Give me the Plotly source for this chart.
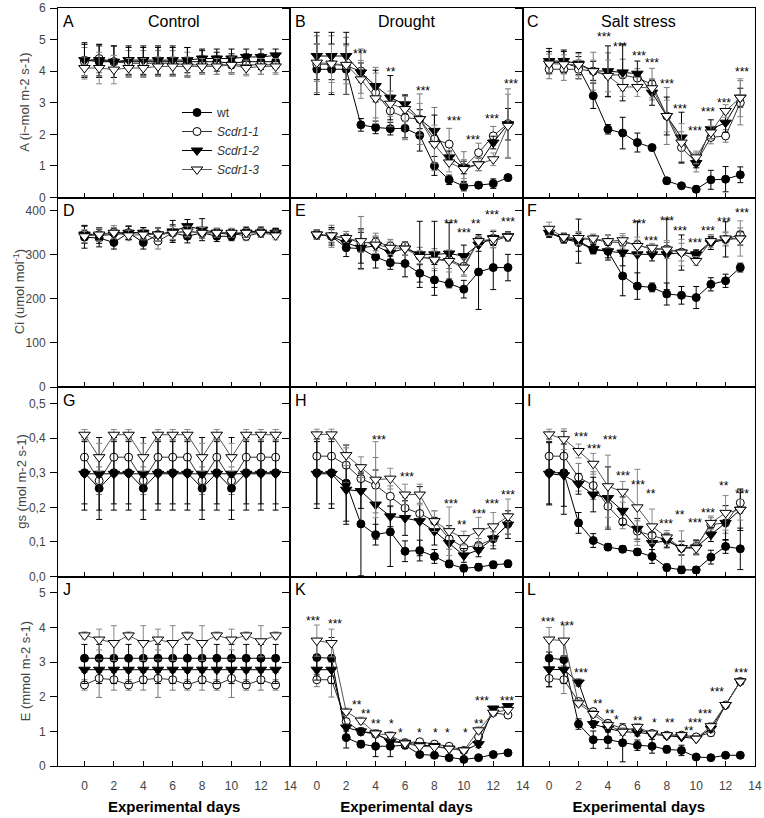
import plotly.graph_objects as go
from plotly.subplots import make_subplots

days = list(range(14))
genotypes = ["wt", "Scdr1-1", "Scdr1-2", "Scdr1-3"]
treatments = ["Control", "Drought", "Salt stress"]
letters = list("ABCDEFGHIJKL")
y_titles = ["A (i~mol m-2 s-1)", "Ci (umol mol<sup>-1</sup>)", "gs (mol m-2 s-1)", "E (mmol m-2 s-1)"]
x_title = "Experimental days"

# ---------------- A: net photosynthesis ----------------
A_wt = [4.35, 4.3, 4.3, 4.3, 4.3, 4.3, 4.3, 4.3, 4.3, 4.3, 4.25, 4.3, 4.3, 4.3]
A_s1 = [4.3, 4.4, 4.3, 4.25, 4.25, 4.25, 4.25, 4.2, 4.2, 4.2, 4.2, 4.2, 4.2, 4.2]
A_s2 = [4.35, 4.35, 4.3, 4.35, 4.35, 4.35, 4.35, 4.35, 4.4, 4.4, 4.4, 4.45, 4.45, 4.5]
A_s3 = [4.1, 4.1, 4.05, 4.1, 4.1, 4.15, 4.15, 4.15, 4.15, 4.15, 4.2, 4.1, 4.15, 4.15]
A_wt_e = [0.5, 0.5, 0.5, 0.45, 0.45, 0.45, 0.45, 0.45, 0.35, 0.3, 0.3, 0.25, 0.25, 0.2]
A_s1_e = [0.45, 0.45, 0.5, 0.4, 0.4, 0.4, 0.4, 0.4, 0.3, 0.3, 0.3, 0.3, 0.3, 0.25]
A_s2_e = [0.55, 0.5, 0.5, 0.45, 0.45, 0.45, 0.45, 0.4, 0.3, 0.3, 0.3, 0.25, 0.25, 0.2]
A_s3_e = [0.35, 0.5, 0.45, 0.3, 0.3, 0.3, 0.3, 0.3, 0.25, 0.25, 0.25, 0.25, 0.25, 0.25]

B_wt = [4.06, 4.06, 4.06, 2.3, 2.22, 2.18, 2.19, 1.97, 1.0, 0.56, 0.36, 0.39, 0.44, 0.63]
B_s1 = [4.22, 4.22, 4.17, 4.0, 3.32, 2.74, 2.53, 2.48, 1.85, 1.69, 0.95, 1.42, 1.95, 2.34]
B_s2 = [4.48, 4.48, 4.48, 3.96, 3.53, 3.16, 2.95, 2.48, 2.11, 1.27, 0.95, 1.05, 1.74, 2.32]
B_s3 = [4.27, 4.24, 4.2, 3.74, 3.14, 2.97, 2.8, 2.48, 1.69, 1.11, 0.9, 1.05, 1.21, 2.27]
B_wt_e = [0.8, 0.8, 0.8, 0.2, 0.2, 0.2, 0.3, 0.5, 0.3, 0.15, 0.15, 0.1, 0.15, 0.1]
B_s1_e = [0.9, 0.9, 0.9, 0.7, 0.8, 0.5, 0.7, 0.8, 1.0, 0.5, 0.5, 0.3, 0.3, 1.1]
B_s2_e = [0.75, 0.75, 0.75, 0.3, 0.5, 0.7, 0.3, 0.3, 0.5, 0.2, 0.2, 0.2, 0.2, 0.5]
B_s3_e = [0.6, 0.6, 0.6, 0.6, 0.8, 0.4, 0.4, 0.5, 0.6, 0.3, 0.3, 0.2, 0.2, 1.0]

C_wt = [4.27, 4.27, 4.11, 3.22, 2.16, 2.04, 1.74, 1.58, 0.53, 0.37, 0.26, 0.56, 0.58, 0.72]
C_s1 = [4.06, 4.06, 4.06, 4.0, 3.88, 3.88, 3.78, 3.59, 2.58, 1.58, 1.11, 1.9, 1.95, 3.0]
C_s2 = [4.32, 4.32, 4.24, 4.01, 4.0, 3.96, 3.92, 3.32, 2.58, 1.9, 1.09, 2.16, 2.37, 3.16]
C_s3 = [4.24, 4.22, 4.2, 4.0, 3.85, 3.5, 3.5, 3.46, 2.58, 1.74, 1.27, 2.06, 2.74, 3.16]
C_wt_e = [0.35, 0.35, 0.35, 0.4, 0.15, 0.5, 0.3, 0.1, 0.1, 0.05, 0.1, 0.3, 0.4, 0.25]
C_s1_e = [0.3, 0.35, 0.3, 0.6, 0.7, 0.5, 0.3, 0.5, 0.9, 0.5, 0.3, 0.2, 0.2, 0.7]
C_s2_e = [0.4, 0.35, 0.35, 0.3, 0.8, 0.9, 0.4, 0.4, 0.6, 0.8, 0.15, 0.3, 0.3, 0.3]
C_s3_e = [0.3, 0.3, 0.35, 0.35, 0.5, 0.3, 0.3, 0.3, 0.5, 0.6, 0.2, 0.2, 0.2, 0.6]

# ---------------- Ci ----------------
D_wt = [340, 338, 328, 350, 328, 346, 350, 342, 350, 342, 342, 353, 353, 350]
D_s1 = [347, 346, 351, 350, 350, 331, 350, 353, 350, 350, 350, 342, 350, 350]
D_s2 = [346, 344, 346, 350, 350, 346, 353, 365, 357, 350, 346, 350, 350, 350]
D_s3 = [342, 346, 350, 344, 346, 346, 350, 353, 350, 350, 350, 350, 350, 344]
D_wt_e = [25, 20, 15, 15, 15, 15, 18, 15, 12, 12, 10, 10, 10, 10]
D_s1_e = [20, 15, 15, 15, 12, 18, 15, 12, 12, 10, 10, 10, 10, 10]
D_s2_e = [20, 18, 15, 15, 12, 15, 25, 15, 25, 10, 10, 10, 10, 10]
D_s3_e = [15, 15, 12, 12, 12, 15, 15, 12, 12, 10, 10, 10, 10, 10]

E_wt = [346, 342, 316, 314, 295, 282, 280, 258, 243, 235, 222, 261, 271, 271]
E_s1 = [346, 342, 338, 327, 329, 320, 320, 297, 289, 289, 274, 333, 331, 342]
E_s2 = [346, 342, 327, 316, 320, 305, 314, 301, 301, 303, 297, 323, 338, 342]
E_s3 = [346, 344, 338, 331, 323, 316, 314, 295, 289, 286, 271, 331, 336, 341]
E_wt_e = [10, 15, 20, 45, 25, 15, 30, 20, 35, 10, 20, 85, 50, 30]
E_s1_e = [10, 25, 15, 60, 20, 15, 10, 20, 25, 20, 20, 10, 15, 10]
E_s2_e = [10, 20, 15, 35, 20, 15, 15, 75, 75, 70, 25, 15, 15, 10]
E_s3_e = [10, 15, 10, 25, 20, 15, 15, 15, 20, 25, 20, 10, 20, 10]

F_wt = [350, 336, 328, 312, 308, 252, 229, 226, 211, 208, 203, 233, 241, 271]
F_s1 = [353, 336, 336, 335, 329, 328, 323, 312, 313, 306, 301, 331, 335, 346]
F_s2 = [350, 338, 331, 313, 308, 305, 301, 301, 301, 305, 301, 327, 335, 337]
F_s3 = [359, 340, 338, 337, 331, 333, 320, 316, 312, 305, 286, 331, 337, 337]
F_wt_e = [10, 10, 20, 10, 15, 45, 30, 10, 25, 20, 25, 15, 15, 10]
F_s1_e = [10, 10, 15, 10, 15, 15, 10, 10, 15, 20, 10, 10, 15, 15]
F_s2_e = [10, 10, 50, 10, 20, 30, 75, 15, 80, 40, 10, 15, 40, 15]
F_s3_e = [15, 10, 15, 10, 15, 15, 20, 10, 20, 30, 10, 15, 15, 40]

# ---------------- gs ----------------
G_wt = [0.3, 0.255, 0.3, 0.3, 0.255, 0.3, 0.3, 0.3, 0.255, 0.3, 0.255, 0.3, 0.3, 0.3]
G_s1 = [0.345, 0.277, 0.345, 0.345, 0.277, 0.345, 0.345, 0.345, 0.277, 0.345, 0.277, 0.345, 0.345, 0.345]
G_s2 = [0.297, 0.297, 0.297, 0.297, 0.297, 0.297, 0.297, 0.297, 0.297, 0.297, 0.297, 0.297, 0.297, 0.297]
G_s3 = [0.41, 0.345, 0.41, 0.41, 0.345, 0.41, 0.41, 0.41, 0.345, 0.41, 0.345, 0.41, 0.41, 0.41]
G_wt_e = [0.09, 0.09, 0.09, 0.09, 0.09, 0.09, 0.09, 0.09, 0.09, 0.09, 0.09, 0.09, 0.09, 0.09]
G_s1_e = [0.05, 0.04, 0.05, 0.05, 0.04, 0.05, 0.05, 0.05, 0.04, 0.05, 0.04, 0.05, 0.05, 0.05]
G_s2_e = [0.105, 0.105, 0.105, 0.105, 0.105, 0.105, 0.105, 0.105, 0.105, 0.105, 0.105, 0.105, 0.105, 0.105]
G_s3_e = [0.015, 0.04, 0.015, 0.015, 0.04, 0.015, 0.015, 0.015, 0.04, 0.015, 0.04, 0.015, 0.015, 0.015]

H_wt = [0.3, 0.3, 0.27, 0.152, 0.121, 0.129, 0.073, 0.075, 0.058, 0.036, 0.024, 0.027, 0.034, 0.037]
H_s1 = [0.348, 0.348, 0.322, 0.283, 0.264, 0.232, 0.198, 0.182, 0.16, 0.109, 0.084, 0.09, 0.109, 0.152]
H_s2 = [0.297, 0.297, 0.251, 0.247, 0.208, 0.174, 0.169, 0.16, 0.131, 0.097, 0.061, 0.077, 0.11, 0.15]
H_s3 = [0.411, 0.411, 0.351, 0.316, 0.28, 0.283, 0.237, 0.237, 0.16, 0.131, 0.111, 0.131, 0.145, 0.174]
H_wt_e = [0.09, 0.09, 0.11, 0.15, 0.03, 0.1, 0.03, 0.03, 0.02, 0.01, 0.01, 0.01, 0.01, 0.01]
H_s1_e = [0.05, 0.05, 0.05, 0.04, 0.08, 0.03, 0.03, 0.03, 0.03, 0.03, 0.02, 0.02, 0.02, 0.03]
H_s2_e = [0.1, 0.1, 0.1, 0.05, 0.1, 0.03, 0.05, 0.1, 0.04, 0.05, 0.02, 0.02, 0.03, 0.04]
H_s3_e = [0.015, 0.015, 0.03, 0.03, 0.11, 0.03, 0.03, 0.03, 0.03, 0.07, 0.02, 0.04, 0.04, 0.05]

I_wt = [0.3, 0.3, 0.155, 0.104, 0.085, 0.079, 0.071, 0.058, 0.026, 0.019, 0.019, 0.056, 0.087, 0.08]
I_s1 = [0.348, 0.348, 0.287, 0.263, 0.203, 0.158, 0.131, 0.119, 0.106, 0.082, 0.087, 0.15, 0.155, 0.213]
I_s2 = [0.297, 0.293, 0.268, 0.237, 0.227, 0.19, 0.138, 0.097, 0.103, 0.082, 0.084, 0.121, 0.155, 0.193]
I_s3 = [0.411, 0.397, 0.363, 0.326, 0.261, 0.245, 0.2, 0.145, 0.113, 0.082, 0.082, 0.155, 0.184, 0.193]
I_wt_e = [0.09, 0.12, 0.03, 0.02, 0.01, 0.01, 0.01, 0.02, 0.01, 0.01, 0.01, 0.02, 0.02, 0.06]
I_s1_e = [0.05, 0.05, 0.04, 0.04, 0.06, 0.02, 0.03, 0.03, 0.02, 0.02, 0.02, 0.02, 0.03, 0.03]
I_s2_e = [0.09, 0.09, 0.03, 0.05, 0.09, 0.04, 0.03, 0.03, 0.02, 0.02, 0.02, 0.02, 0.05, 0.06]
I_s3_e = [0.015, 0.03, 0.02, 0.03, 0.09, 0.03, 0.11, 0.05, 0.02, 0.05, 0.02, 0.02, 0.05, 0.03]

# ---------------- E: transpiration ----------------
J_wt = [3.11, 3.11, 3.11, 3.11, 3.11, 3.11, 3.11, 3.11, 3.11, 3.11, 3.11, 3.11, 3.11, 3.11]
J_s1 = [2.34, 2.53, 2.49, 2.34, 2.49, 2.53, 2.49, 2.34, 2.49, 2.34, 2.53, 2.34, 2.49, 2.34]
J_s2 = [2.78, 2.78, 2.78, 2.78, 2.78, 2.78, 2.78, 2.78, 2.78, 2.78, 2.78, 2.78, 2.78, 2.78]
J_s3 = [3.77, 3.65, 3.55, 3.77, 3.55, 3.65, 3.55, 3.77, 3.55, 3.77, 3.65, 3.77, 3.6, 3.77]
J_wt_e = [0.4, 0.4, 0.4, 0.4, 0.4, 0.4, 0.4, 0.4, 0.4, 0.4, 0.4, 0.4, 0.4, 0.4]
J_s1_e = [0.15, 0.55, 0.3, 0.15, 0.3, 0.55, 0.3, 0.15, 0.3, 0.15, 0.55, 0.15, 0.3, 0.15]
J_s2_e = [0.4, 0.4, 0.4, 0.4, 0.4, 0.4, 0.4, 0.4, 0.4, 0.4, 0.4, 0.4, 0.4, 0.4]
J_s3_e = [0.1, 0.3, 0.5, 0.1, 0.5, 0.3, 0.5, 0.1, 0.5, 0.1, 0.3, 0.1, 0.45, 0.1]

K_wt = [3.13, 3.11, 0.82, 0.63, 0.57, 0.57, 0.6, 0.33, 0.31, 0.24, 0.19, 0.24, 0.33, 0.38]
K_s1 = [2.49, 2.49, 1.28, 0.99, 0.92, 0.74, 0.67, 0.7, 0.63, 0.57, 0.45, 0.84, 1.54, 1.47]
K_s2 = [2.78, 2.78, 1.11, 1.0, 0.94, 0.7, 0.67, 0.6, 0.58, 0.5, 0.45, 0.63, 1.66, 1.73]
K_s3 = [3.62, 3.55, 1.57, 1.31, 0.94, 0.89, 0.65, 0.57, 0.55, 0.5, 0.45, 1.03, 1.54, 1.62]
K_wt_e = [0.5, 0.6, 0.3, 0.1, 0.3, 0.3, 0.1, 0.05, 0.05, 0.05, 0.05, 0.05, 0.05, 0.05]
K_s1_e = [0.2, 0.5, 0.1, 0.1, 0.1, 0.1, 0.1, 0.05, 0.05, 0.05, 0.05, 0.1, 0.05, 0.05]
K_s2_e = [0.3, 0.4, 0.1, 0.1, 0.1, 0.1, 0.1, 0.05, 0.05, 0.05, 0.05, 0.1, 0.05, 0.05]
K_s3_e = [0.45, 0.4, 0.1, 0.1, 0.1, 0.1, 0.1, 0.05, 0.05, 0.05, 0.05, 0.1, 0.05, 0.05]

L_wt = [3.11, 3.07, 1.21, 0.76, 0.76, 0.67, 0.6, 0.57, 0.48, 0.45, 0.26, 0.24, 0.31, 0.31]
L_s1 = [2.53, 2.49, 1.86, 1.57, 1.23, 1.08, 1.05, 0.94, 0.89, 0.89, 0.84, 0.96, 1.76, 2.44]
L_s2 = [2.79, 2.78, 2.41, 1.21, 1.08, 0.99, 0.97, 0.91, 0.87, 0.84, 0.79, 1.08, 1.76, 2.44]
L_s3 = [3.65, 3.62, 1.81, 1.5, 1.18, 0.99, 1.13, 0.94, 0.89, 0.89, 0.79, 1.15, 1.76, 2.44]
L_wt_e = [0.5, 0.5, 0.15, 0.25, 0.25, 0.55, 0.15, 0.2, 0.1, 0.15, 0.05, 0.05, 0.05, 0.05]
L_s1_e = [0.25, 0.4, 0.1, 0.1, 0.1, 0.1, 0.1, 0.05, 0.05, 0.05, 0.05, 0.1, 0.05, 0.05]
L_s2_e = [0.5, 0.4, 0.1, 0.1, 0.1, 0.1, 0.1, 0.05, 0.05, 0.05, 0.05, 0.1, 0.05, 0.05]
L_s3_e = [0.35, 0.45, 0.1, 0.1, 0.1, 0.1, 0.1, 0.05, 0.05, 0.05, 0.05, 0.1, 0.05, 0.05]

# ---------------- significance marks ----------------
B_star_x = [2.95, 5.07, 7.2, 9.3, 10.6, 11.9, 13.2]
B_star_y = [4.64, 4.06, 3.46, 2.51, 1.9, 2.58, 3.69]
B_star_t = ["***", "**", "***", "***", "***", "***", "***"]
C_star_x = [3.7, 4.8, 6.1, 7.0, 8.0, 8.9, 9.9, 10.8, 11.9, 13.1]
C_star_y = [5.17, 4.87, 4.57, 4.35, 3.69, 2.9, 2.19, 2.8, 3.09, 4.06]
C_star_t = ["***"] * 10
E_star_x = [9.1, 10.0, 10.8, 11.9, 13.0]
E_star_y = [376, 356, 376, 398, 382]
E_star_t = ["***", "***", "**", "***", "***"]
F_star_x = [6.1, 6.9, 8.0, 8.9, 9.9, 10.8, 11.9, 13.1]
F_star_y = [376, 338, 383, 361, 333, 361, 382, 402]
F_star_t = ["***"] * 8
H_star_x = [4.2, 6.1, 9.1, 9.9, 11.0, 11.9, 13.0]
H_star_y = [0.403, 0.295, 0.218, 0.158, 0.19, 0.218, 0.245]
H_star_t = ["***", "***", "***", "**", "***", "***", "***"]
I_star_x = [2.2, 3.07, 4.16, 5.0, 6.07, 6.9, 7.95, 8.9, 9.9, 10.8, 11.9, 13.1]
I_star_y = [0.411, 0.377, 0.404, 0.3, 0.274, 0.247, 0.16, 0.187, 0.164, 0.193, 0.269, 0.247]
I_star_t = ["***", "***", "***", "***", "***", "**", "***", "**", "***", "***", "**", "***"]
K_star_x = [-0.23, 1.25, 2.7, 3.36, 4.0, 5.07, 5.7, 7.0, 8.1, 8.9, 10.1, 11.0, 11.25, 12.95]
K_star_y = [4.27, 4.18, 1.86, 1.6, 1.31, 1.31, 1.03, 1.03, 1.03, 1.03, 1.03, 1.31, 1.95, 1.95]
K_star_t = ["***", "***", "**", "**", "**", "*", "*", "*", "*", "*", "*", "**", "***", "***"]
L_star_x = [-0.1, 1.2, 2.2, 3.3, 4.16, 4.6, 6.07, 7.16, 8.2, 9.5, 9.9, 10.6, 11.4, 13.07]
L_star_y = [4.23, 4.13, 2.76, 1.89, 1.6, 1.42, 1.4, 1.32, 1.32, 1.11, 1.32, 1.6, 2.22, 2.76]
L_star_t = ["***", "***", "***", "**", "**", "*", "**", "*", "**", "**", "***", "***", "***", "***"]

y_ranges = [[0, 6.0], [0, 430], [0, 0.548], [0, 5.47]]
y_ticks = [[0, 1, 2, 3, 4, 5, 6], [0, 100, 200, 300, 400], [0, 0.1, 0.2, 0.3, 0.4, 0.5], [0, 1, 2, 3, 4, 5]]
y_formats = ["d", "d", ".1f", "d"]
x_ticks = [0, 2, 4, 6, 8, 10, 12, 14]

panels = {
    "A": ([A_wt, A_s1, A_s2, A_s3], [A_wt_e, A_s1_e, A_s2_e, A_s3_e], None),
    "B": ([B_wt, B_s1, B_s2, B_s3], [B_wt_e, B_s1_e, B_s2_e, B_s3_e], (B_star_x, B_star_y, B_star_t)),
    "C": ([C_wt, C_s1, C_s2, C_s3], [C_wt_e, C_s1_e, C_s2_e, C_s3_e], (C_star_x, C_star_y, C_star_t)),
    "D": ([D_wt, D_s1, D_s2, D_s3], [D_wt_e, D_s1_e, D_s2_e, D_s3_e], None),
    "E": ([E_wt, E_s1, E_s2, E_s3], [E_wt_e, E_s1_e, E_s2_e, E_s3_e], (E_star_x, E_star_y, E_star_t)),
    "F": ([F_wt, F_s1, F_s2, F_s3], [F_wt_e, F_s1_e, F_s2_e, F_s3_e], (F_star_x, F_star_y, F_star_t)),
    "G": ([G_wt, G_s1, G_s2, G_s3], [G_wt_e, G_s1_e, G_s2_e, G_s3_e], None),
    "H": ([H_wt, H_s1, H_s2, H_s3], [H_wt_e, H_s1_e, H_s2_e, H_s3_e], (H_star_x, H_star_y, H_star_t)),
    "I": ([I_wt, I_s1, I_s2, I_s3], [I_wt_e, I_s1_e, I_s2_e, I_s3_e], (I_star_x, I_star_y, I_star_t)),
    "J": ([J_wt, J_s1, J_s2, J_s3], [J_wt_e, J_s1_e, J_s2_e, J_s3_e], None),
    "K": ([K_wt, K_s1, K_s2, K_s3], [K_wt_e, K_s1_e, K_s2_e, K_s3_e], (K_star_x, K_star_y, K_star_t)),
    "L": ([L_wt, L_s1, L_s2, L_s3], [L_wt_e, L_s1_e, L_s2_e, L_s3_e], (L_star_x, L_star_y, L_star_t)),
}

styles = [
    dict(symbol="circle", fill="black", size=8, line="black", err="black"),
    dict(symbol="circle", fill="white", size=8, line="#333333", err="#777777"),
    dict(symbol="triangle-down", fill="black", size=10, line="black", err="black"),
    dict(symbol="triangle-down", fill="white", size=10, line="#555555", err="#888888"),
]
legend_names = ["wt", "<i>Scdr1-1</i>", "<i>Scdr1-2</i>", "<i>Scdr1-3</i>"]
y_title_px = [25, 19, 22, 25]

FONT = "Arial, Liberation Sans, sans-serif"
fig = make_subplots(rows=4, cols=3, horizontal_spacing=0, vertical_spacing=0)

for idx, letter in enumerate(letters):
    r, c = idx // 3 + 1, idx % 3 + 1
    vals, errs, stars = panels[letter]
    for k in range(4):
        st = styles[k]
        fig.add_trace(go.Scatter(
            x=days, y=vals[k], mode="lines+markers",
            name=legend_names[k], legendgroup=genotypes[k],
            showlegend=(letter == "A"),
            line=dict(color=st["line"], width=1),
            marker=dict(symbol=st["symbol"], size=st["size"], color=st["fill"],
                        line=dict(color="black", width=1)),
            error_y=dict(type="data", array=errs[k], visible=True,
                         color=st["err"], thickness=1, width=3),
        ), row=r, col=c)
    if stars is not None:
        xs, ys, ts = stars
        for sx, sy, stx in zip(xs, ys, ts):
            fig.add_annotation(x=sx, y=sy, text=stx, showarrow=False,
                               font=dict(size=12, color="black", family=FONT),
                               xanchor="center", yanchor="middle", yshift=-3,
                               row=r, col=c)
    xa = fig.get_subplot(r, c).xaxis.plotly_name.replace("axis", "")
    ya = fig.get_subplot(r, c).yaxis.plotly_name.replace("axis", "")
    fig.add_annotation(xref=f"{xa} domain", yref=f"{ya} domain", x=0.012, y=0.985,
                       text=letter, showarrow=False, xanchor="left", yanchor="top",
                       font=dict(size=16, color="black", family=FONT))
    if r == 1:
        fig.add_annotation(xref=f"{xa} domain", yref=f"{ya} domain", x=0.5, y=0.985,
                           text=treatments[c - 1], showarrow=False, xanchor="center", yanchor="top",
                           font=dict(size=16, color="black", family=FONT))
    if c == 1:
        fig.add_annotation(xref="paper", yref=f"{ya} domain", x=(y_title_px[r - 1] - 58) / 697, y=0.5,
                           text=y_titles[r - 1], showarrow=False, textangle=-90,
                           xanchor="center", yanchor="middle",
                           font=dict(size=13, color="#444444", family=FONT))
    fig.update_yaxes(range=y_ranges[r - 1], tickvals=y_ticks[r - 1], tickformat=y_formats[r - 1],
                     showticklabels=(c == 1), ticks="outside", ticklen=7, tickcolor="black",
                     ticklabelstandoff=2, automargin=False,
                     showline=True, linecolor="black", linewidth=1, mirror=True,
                     showgrid=False, zeroline=False,
                     tickfont=dict(size=12, color="#444444", family=FONT),
                     row=r, col=c)
    xkw = dict(range=[-1.8, 14], tickvals=x_ticks, showticklabels=(r == 4),
               ticks="inside", ticklen=5, tickcolor="black", automargin=False,
               showline=True, linecolor="black", linewidth=1, mirror=True,
               showgrid=False, zeroline=False,
               tickfont=dict(size=12, color="#444444", family=FONT))
    if r == 4:
        xkw["ticklabelstandoff"] = 9
        xkw["title"] = dict(text=f"<b>{x_title}</b>", standoff=9,
                            font=dict(size=15, color="black", family=FONT))
    fig.update_xaxes(row=r, col=c, **xkw)

fig.update_layout(
    width=764, height=818,
    margin=dict(l=58, r=9, t=8, b=52, autoexpand=False),
    plot_bgcolor="white", paper_bgcolor="white",
    separators=",.",
    font=dict(family=FONT),
    legend=dict(x=(177 - 58) / 697, y=(766 - 98) / 758, xanchor="left", yanchor="top",
                bgcolor="rgba(0,0,0,0)", font=dict(size=12, color="#333333", family=FONT),
                tracegroupgap=0, itemwidth=30),
)

# remove the default page margin so the figure sits at the window's top-left corner
fig.write_html("out.html",
               config={"displayModeBar": False},
               post_script="document.body.style.margin='0px';document.body.style.overflow='hidden';")
